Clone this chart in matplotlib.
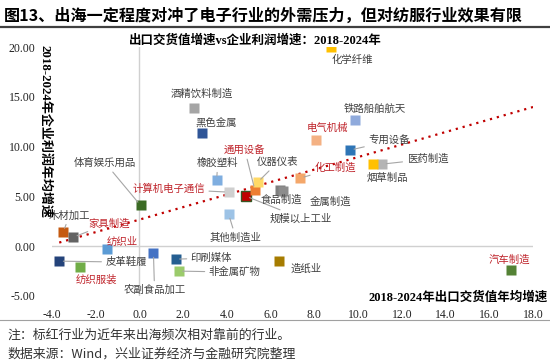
import matplotlib
matplotlib.use("Agg")
import matplotlib.pyplot as plt

# ---- data -----------------------------------------------------------------
NAMES = ["化学纤维", "酒精饮料制造", "黑色金属", "铁路船舶航天", "电气机械",
         "专用设备", "医药制造", "烟草制品", "体育娱乐用品", "橡胶塑料",
         "计算机电子通信", "规模以上工业", "食品制造", "金属制造", "化工制造",
         "通用设备", "仪器仪表", "其他制造业", "木材加工", "家具制造",
         "纺织业", "皮革鞋履", "纺织服装", "农副食品加工", "印刷媒体",
         "非金属矿物", "造纸业", "汽车制造"]
EXPORT_GROWTH = [8.76, 2.48, 2.84, 9.86, 8.07, 9.63, 11.1, 10.7, 0.05, 3.53,
                 4.08, 4.86, 6.42, 6.55, 7.34, 5.28, 5.41, 4.08, -3.49, -3.03,
                 -1.47, -3.67, -2.71, 0.64, 1.65, 1.79, 6.38, 17.0]
PROFIT_GROWTH = [20.0, 13.9, 11.4, 12.66, 10.65, 9.65, 8.24, 8.24, 4.1, 6.63,
                 5.43, 5.03, 5.63, 5.5, 6.83, 5.63, 6.43, 3.2, 1.4, 0.9,
                 -0.3, -1.5, -2.1, -0.7, -1.3, -2.5, -1.5, -2.4]
RED = {"电气机械", "计算机电子通信", "化工制造", "通用设备", "家具制造",
       "纺织业", "纺织服装", "汽车制造"}

# linear trend as drawn in the reference
TREND_SLOPE = 0.628
TREND_INTERCEPT = 2.67

X_TICKS = [-4, -2, 0, 2, 4, 6, 8, 10, 12, 14, 16, 18]
Y_TICKS = [-5, 0, 5, 10, 15, 20]

# ---- style ----------------------------------------------------------------
COLORS = {
    "化学纤维": "#FFC000", "酒精饮料制造": "#A5A5A5", "黑色金属": "#2F5597",
    "铁路船舶航天": "#8FAADC", "电气机械": "#F4B183", "专用设备": "#2E75B6",
    "医药制造": "#B4B4B4", "烟草制品": "#FFC000", "体育娱乐用品": "#3B6B24",
    "橡胶塑料": "#7FAEE0", "计算机电子通信": "#CFCFCF", "规模以上工业": "#C00000",
    "食品制造": "#7F7F7F", "金属制造": "#8C8C8C", "化工制造": "#F4A76A",
    "通用设备": "#ED7D31", "仪器仪表": "#FFD966", "其他制造业": "#9DC3E6",
    "木材加工": "#C55A11", "家具制造": "#636363", "纺织业": "#5B9BD5",
    "皮革鞋履": "#24437A", "纺织服装": "#70AD47", "农副食品加工": "#4472C4",
    "印刷媒体": "#255E91", "非金属矿物": "#9BCB6B", "造纸业": "#A67C00",
    "汽车制造": "#548235",
}
# label centre (data coords) and whether a leader line is drawn
LABELS = {
    "化学纤维": ((9.75, 18.7), False), "酒精饮料制造": ((2.84, 15.3), False),
    "黑色金属": ((3.49, 12.4), False), "铁路船舶航天": ((10.78, 13.77), False),
    "电气机械": ((8.62, 11.86), False), "专用设备": ((11.42, 10.55), True),
    "医药制造": ((13.17, 8.74), True), "烟草制品": ((11.33, 6.83), False),
    "体育娱乐用品": ((-1.56, 8.34), True), "橡胶塑料": ((3.58, 8.34), True),
    "计算机电子通信": ((1.33, 5.73), True), "规模以上工业": ((7.39, 2.81), True),
    "食品制造": ((6.51, 4.62), False), "金属制造": ((8.72, 4.42), False),
    "化工制造": ((8.94, 7.84), True), "通用设备": ((4.82, 9.65), True),
    "仪器仪表": ((6.33, 8.44), True), "其他制造业": ((4.4, 0.9), True),
    "木材加工": ((-3.2, 3.1), True), "家具制造": ((-1.38, 2.31), True),
    "纺织业": ((-0.78, 0.4), False), "皮革鞋履": ((-0.6, -1.6), True),
    "纺织服装": ((-1.97, -3.4), False), "农副食品加工": ((0.69, -4.4), True),
    "印刷媒体": ((3.3, -1.2), True), "非金属矿物": ((4.36, -2.6), True),
    "造纸业": ((7.61, -2.3), False), "汽车制造": ((16.9, -1.4), False),
}

SERIF = ["Liberation Serif", "Noto Sans CJK SC"]
CJK = ["Noto Sans CJK SC", "DejaVu Sans"]
W, H = 550, 361


def fx(px):
    return px / W


def fy(py):
    return 1 - py / H


fig = plt.figure(figsize=(5.5, 3.61), dpi=100)
ax = fig.add_axes([fx(52), fy(296), fx(533) - fx(52), fy(47) - fy(296)])
ax.set_xlim(-4, 18)
ax.set_ylim(-5, 20)
for s in ax.spines.values():
    s.set_visible(False)
ax.axhline(0, color="#D0D0D0", lw=1.0, zorder=1)
ax.axvline(0, color="#D0D0D0", lw=1.0, zorder=1)

ax.set_xticks(X_TICKS)
ax.set_xticklabels([f"{v:.1f}" for v in X_TICKS], family=SERIF, fontsize=8.5)
ax.set_yticks(Y_TICKS)
ax.set_yticklabels([f"{v:.2f}" for v in Y_TICKS], family=SERIF, fontsize=8.5)
ax.tick_params(length=0, pad=9, colors="#222222")
ax.tick_params(axis="y", pad=12)

# trend line
tx = [min(EXPORT_GROWTH), X_TICKS[-1]]
ax.plot(tx, [TREND_SLOPE * v + TREND_INTERCEPT for v in tx], color="#C00000",
        lw=1.6, linestyle=(0, (1, 2.2)), zorder=2)

for name, x, y in zip(NAMES, EXPORT_GROWTH, PROFIT_GROWTH):
    edge = "#375623" if name == "规模以上工业" else "none"
    ax.plot(x, y, marker="s", markersize=7.5, color=COLORS[name],
            markeredgecolor=edge, markeredgewidth=1.0, linestyle="none",
            zorder=3)
    pos, leader = LABELS[name]
    kw = {}
    if leader:
        kw["arrowprops"] = dict(arrowstyle="-", color="#A6A6A6", lw=0.8,
                                shrinkA=1, shrinkB=3)
    ax.annotate(name, (x, y), xytext=pos, textcoords="data",
                ha="center", va="center", fontsize=7.5, family=CJK,
                color="#C0262D" if name in RED else "#404040", zorder=4, **kw)

# texts
fig.text(fx(4), fy(16), "图13、出海一定程度对冲了电子行业的外需压力，但对纺服行业效果有限",
         family=CJK, fontsize=11.6, fontweight="bold", va="center", ha="left")
fig.add_artist(plt.Line2D([0, 1], [fy(27), fy(27)], color="#404040", lw=1.6))
fig.text(fx(255), fy(41), "出口交货值增速vs企业利润增速：2018-2024年",
         family=SERIF, fontsize=9, fontweight="bold", va="center", ha="center")
fig.text(fx(45), fy(45), "2018-2024年企业利润年均增速", family=SERIF,
         fontsize=9.4, fontweight="bold", rotation=-90, ha="center", va="top")
fig.text(fx(548), fy(298), "2018-2024年出口交货值年均增速", family=SERIF,
         fontsize=9, fontweight="bold", ha="right", va="center")
fig.add_artist(plt.Line2D([0, 1], [fy(320), fy(320)], color="#A0A0A0", lw=0.8))
fig.text(fx(7), fy(335), "注：标红行业为近年来出海频次相对靠前的行业。",
         family=CJK, fontsize=9.3, color="#333333", va="center", ha="left")
fig.text(fx(7), fy(354), "数据来源：Wind，兴业证券经济与金融研究院整理",
         family=CJK, fontsize=9.3, color="#333333", va="center", ha="left")

fig.savefig("out.png", dpi=100)
